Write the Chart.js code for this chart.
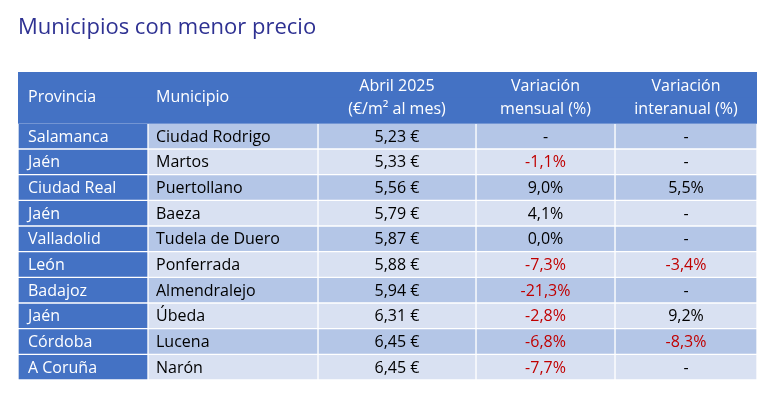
<!DOCTYPE html>
<html><head><meta charset="utf-8">
<script src="https://cdn.jsdelivr.net/npm/chart.js@4"></script>
<style>html,body{margin:0;padding:0;background:#fff}#c{display:block}</style>
</head><body><canvas id="c" width="771" height="411"></canvas>
<script>
const title = "Municipios con menor precio";
const headers = [["Provincia"],["Municipio"],["Abril 2025","(€/m² al mes)"],["Variación","mensual (%)"],["Variación","interanual (%)"]];
const provincias = ["Salamanca","Jaén","Ciudad Real","Jaén","Valladolid","León","Badajoz","Jaén","Córdoba","A Coruña"];
const municipios = ["Ciudad Rodrigo","Martos","Puertollano","Baeza","Tudela de Duero","Ponferrada","Almendralejo","Úbeda","Lucena","Narón"];
const precios = ["5,23 €","5,33 €","5,56 €","5,79 €","5,87 €","5,88 €","5,94 €","6,31 €","6,45 €","6,45 €"];
const mensual = ["-","-1,1%","9,0%","4,1%","0,0%","-7,3%","-21,3%","-2,8%","-6,8%","-7,7%"];
const interanual = ["-","-","5,5%","-","-","-3,4%","-","9,2%","-8,3%","-"];
const colEdges = [0,130,300,458,597,739];
const cats = ["h1","h2"].concat(provincias.map((p,i)=>"r"+i));
const dark="#4472c4", mid="#b4c6e7", light="#d9e1f2";
const cols=[provincias,municipios,precios,mensual,interanual];
const datasets=[];
// header
datasets.push({data:cats.map((c,i)=>i<2?[colEdges[0],colEdges[5]]:null),backgroundColor:dark,borderWidth:0});
for(let k=0;k<5;k++){
  datasets.push({data:cats.map((c,i)=>i<2?null:[colEdges[k],colEdges[k+1]]),
    backgroundColor:cats.map((c,i)=>k===0?dark:((i-2)%2===0?mid:light)),
    borderColor:"#ffffff",borderWidth:1,borderSkipped:false});
}
const textPlugin={id:"txt",afterDatasetsDraw(ch){
  const ctx=ch.ctx,x=ch.scales.x,y=ch.scales.y;
  ctx.save();
  ctx.fillStyle="#2e3192";ctx.font="22px 'Open Sans'";ctx.textBaseline="middle";ctx.textAlign="left";
  ctx.fillText(title,18,28);
  ctx.font="16px 'Open Sans'";
  const hy=(y.getPixelForValue(0)+y.getPixelForValue(1))/2;
  const hstep=y.getPixelForValue(1)-y.getPixelForValue(0);
  ctx.fillStyle="#fff";
  headers.forEach((h,k)=>{
    let px;
    if(k<2){ctx.textAlign="left";px=x.getPixelForValue(colEdges[k])+(k===0?10:8);}
    else{ctx.textAlign="center";px=(x.getPixelForValue(colEdges[k])+x.getPixelForValue(colEdges[k+1]))/2;}
    if(h.length===1)ctx.fillText(h[0],px,hy);
    else{ctx.fillText(h[0],px,hy-hstep*0.45);ctx.fillText(h[1],px,hy+hstep*0.45);}
  });
  for(let r=0;r<provincias.length;r++){
    const py=y.getPixelForValue(r+2)+1;
    cols.forEach((col,k)=>{
      const v=col[r];
      let px;
      if(k<2){ctx.textAlign="left";px=x.getPixelForValue(colEdges[k])+(k===0?10:8);}
      else{ctx.textAlign="center";px=(x.getPixelForValue(colEdges[k])+x.getPixelForValue(colEdges[k+1]))/2;}
      ctx.fillStyle=k===0?"#fff":(k>=3&&v.startsWith("-")&&v.length>1?"#c00000":"#000");
      ctx.fillText(v,px,py);
    });
  }
  ctx.restore();
}};
new Chart(document.getElementById("c"),{type:"bar",
  data:{labels:cats,datasets},
  options:{indexAxis:"y",responsive:false,animation:false,
    layout:{padding:{left:18,right:14,top:72,bottom:31}},
    datasets:{bar:{barPercentage:1,categoryPercentage:1,grouped:false}},
    scales:{x:{type:"linear",min:0,max:739,display:false},y:{display:false}},
    plugins:{legend:{display:false},tooltip:{enabled:false},title:{display:false}}},
  plugins:[textPlugin]});
</script></body></html>
